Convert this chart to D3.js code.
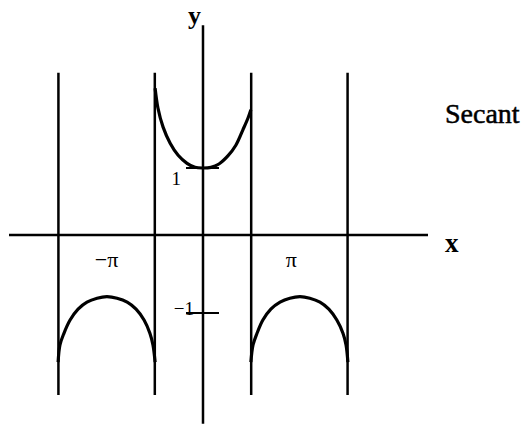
<!DOCTYPE html>
<html>
<head>
<meta charset="utf-8">
<script src="https://cdn.jsdelivr.net/npm/d3@7"></script>
<style>
  body { margin: 0; background: #fff; }
  text { font-family: "Liberation Serif", "Times New Roman", serif; fill: #000; }
</style>
</head>
<body>
<div id="secant"></div>
<script>
// the secant graph (x in radians)

var asymptotes = [-4.71, -1.57, 1.57, 4.71];

// upper branch between -pi/2 and pi/2
var upper_x = [-1.56, -1.47, -1.30, -1.07, -0.81, -0.52, -0.26, 0, 0.26, 0.52, 0.81, 1.07, 1.30, 1.47, 1.56];
var upper_y = [2.19, 1.90, 1.61, 1.37, 1.19, 1.07, 1.01, 1.00, 1.01, 1.06, 1.18, 1.34, 1.57, 1.75, 1.87];

// lower branch between -3pi/2 and -pi/2
var left_x = [-4.72, -4.66, -4.53, -4.33, -4.07, -3.78, -3.45, -3.13, -2.80, -2.47, -2.18, -1.92, -1.73, -1.63, -1.56];
var left_y = [-1.63, -1.41, -1.26, -1.09, -0.95, -0.86, -0.81, -0.79, -0.81, -0.86, -0.95, -1.09, -1.26, -1.41, -1.63];

// lower branch between pi/2 and 3pi/2
var right_x = [1.56, 1.63, 1.76, 1.95, 2.21, 2.51, 2.83, 3.16, 3.48, 3.81, 4.10, 4.36, 4.56, 4.66, 4.72];
var right_y = [-1.63, -1.41, -1.26, -1.09, -0.95, -0.86, -0.81, -0.79, -0.81, -0.86, -0.95, -1.09, -1.26, -1.41, -1.63];

var x_ticks = [{v: -3.14, label: "\u2212\u03c0"}, {v: 3.14, label: "\u03c0"}];
var y_ticks = [{v: 1, label: "1"}, {v: -1, label: "\u22121"}];

var x_extent = [-6.32, 7.33];
var y_extent = [-2.42, 3.13];
var asym_extent = [-2.05, 2.42];

var setWidth = 531;
var setHeight = 424;

var svg = d3.select("#secant")
    .append("svg")
    .attr("width", setWidth)
    .attr("height", setHeight);

var x = d3.scaleLinear()
    .domain(x_extent)
    .range([9, 428]);

// the drawing is not evenly scaled above and below the x axis
var y = d3.scaleLinear()
    .domain([-1, 0, 1])
    .range([313, 235, 168]);

// axes
svg.append("line")
    .attr("x1", x(x_extent[0])).attr("x2", x(x_extent[1]))
    .attr("y1", y(0)).attr("y2", y(0))
    .attr("stroke", "#000").attr("stroke-width", 2.5);

svg.append("line")
    .attr("x1", x(0)).attr("x2", x(0))
    .attr("y1", y(y_extent[1])).attr("y2", y(y_extent[0]))
    .attr("stroke", "#000").attr("stroke-width", 2.5);

// asymptotes
svg.selectAll(".asym")
    .data(asymptotes)
    .join("line")
        .attr("class", "asym")
        .attr("x1", function (d) { return x(d); })
        .attr("x2", function (d) { return x(d); })
        .attr("y1", y(asym_extent[1]))
        .attr("y2", y(asym_extent[0]))
        .attr("stroke", "#000")
        .attr("stroke-width", 2.5);

// branches
var line = d3.line()
    .x(function (d) { return x(d[0]); })
    .y(function (d) { return y(d[1]); })
    .curve(d3.curveCatmullRom);

var branches = [
    d3.zip(upper_x, upper_y),
    d3.zip(left_x, left_y),
    d3.zip(right_x, right_y)];

svg.selectAll(".branch")
    .data(branches)
    .join("path")
        .attr("class", "branch")
        .attr("d", line)
        .attr("fill", "none")
        .attr("stroke", "#000")
        .attr("stroke-width", 3.2);

// y ticks
svg.selectAll(".ytick")
    .data(y_ticks)
    .join("line")
        .attr("class", "ytick")
        .attr("x1", x(0) - 17)
        .attr("x2", x(0) + 16)
        .attr("y1", function (d) { return y(d.v); })
        .attr("y2", function (d) { return y(d.v); })
        .attr("stroke", "#000")
        .attr("stroke-width", 2.2);

svg.selectAll(".ylab")
    .data(y_ticks)
    .join("text")
        .attr("class", "ylab")
        .attr("text-anchor", "end")
        .attr("x", function (d) { return d.v > 0 ? x(0) - 22 : x(0) - 9; })
        .attr("y", function (d) { return d.v > 0 ? y(d.v) + 17 : y(d.v) + 2; })
        .style("font-size", "19px")
        .text(function (d) { return d.label; });

// x tick labels
svg.selectAll(".xlab")
    .data(x_ticks)
    .join("text")
        .attr("class", "xlab")
        .attr("text-anchor", "middle")
        .attr("x", function (d) { return d.v < 0 ? x(d.v) : x(d.v) - 8; })
        .attr("y", y(0) + 32)
        .style("font-size", "22px")
        .text(function (d) { return d.label; });

// axis names
svg.append("text")
    .attr("x", x(0) - 15)
    .attr("y", 24)
    .style("font-size", "26px")
    .style("font-weight", "bold")
    .text("y");

svg.append("text")
    .attr("x", 445)
    .attr("y", 252)
    .style("font-size", "27px")
    .style("font-weight", "bold")
    .text("x");

// title
svg.append("text")
    .attr("x", 445)
    .attr("y", 123)
    .style("font-size", "28px")
    .style("stroke", "#000")
    .style("stroke-width", 0.5)
    .text("Secant");
</script>
</body>
</html>
